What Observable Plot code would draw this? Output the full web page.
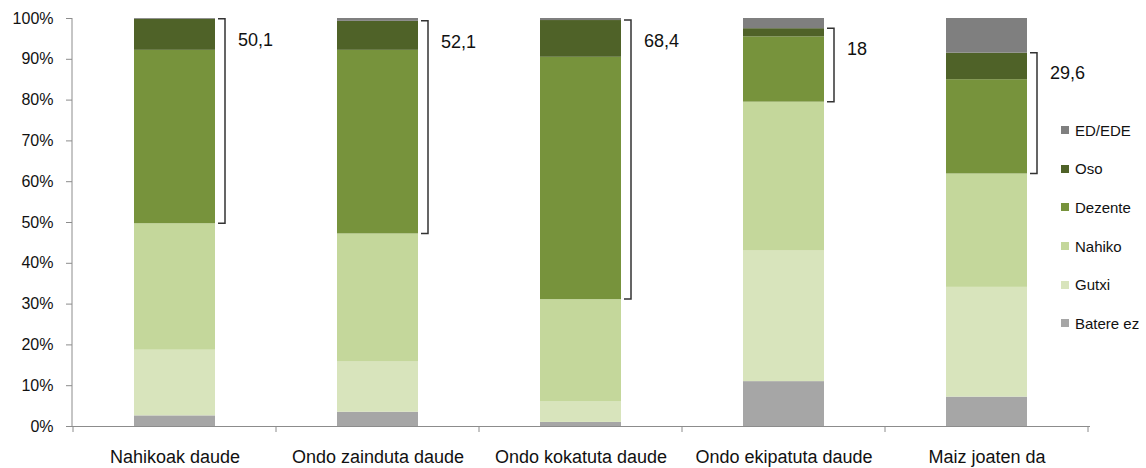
<!DOCTYPE html>
<html><head><meta charset="utf-8">
<script src="https://cdn.jsdelivr.net/npm/d3@7"></script>
<script src="https://cdn.jsdelivr.net/npm/@observablehq/plot@0.6"></script>
<style>
body{margin:0;background:#fff;}
#chart{position:relative;width:1146px;height:468px;font-family:"Liberation Sans",Arial,sans-serif;}
#legend{position:absolute;left:1061px;top:111px;font-size:15px;color:#111;}
#legend .item{height:38.6px;display:flex;align-items:center;}
#legend .sw{width:8px;height:8px;margin-right:6px;}
</style></head><body><div id="chart"></div>
<script>
const categories = ["Nahikoak daude","Ondo zainduta daude","Ondo kokatuta daude","Ondo ekipatuta daude","Maiz joaten da"];
const seriesNames = ["Batere ez","Gutxi","Nahiko","Dezente","Oso","ED/EDE"];
const seriesColors = ["#a6a6a6","#d8e4bc","#c4d79b","#77933c","#4f6228","#7f7f7f"];
const batereEz = [2.6, 3.5, 1.0, 11.0, 7.2];
const gutxi    = [16.1, 12.3, 5.0, 32.0, 26.9];
const nahiko   = [31.0, 31.4, 25.1, 36.5, 27.8];
const dezente  = [42.5, 45.0, 59.4, 16.0, 23.1];
const oso      = [7.6, 7.1, 9.0, 2.0, 6.5];
const edEde    = [0.2, 0.7, 0.5, 2.5, 8.5];
const bracketLabels = ["50,1","52,1","68,4","18","29,6"];
const yTicks = [0,10,20,30,40,50,60,70,80,90,100];

const seriesValues = [batereEz, gutxi, nahiko, dezente, oso, edEde];
const data = [];
seriesNames.forEach((s, si) => categories.forEach((c, ci) => data.push({cat: c, series: s, value: seriesValues[si][ci]})));

const brackets = categories.map((c, i) => ({
  cat: c,
  bottom: batereEz[i] + gutxi[i] + nahiko[i],
  top: batereEz[i] + gutxi[i] + nahiko[i] + dezente[i] + oso[i],
  label: bracketLabels[i]
}));

function annotations(index, scales, values, dims) {
  const x = scales.x, y = scales.y;
  const bw = x.bandwidth(), step = x.step();
  const g = d3.create("svg:g");
  const axisColor = "#8c8c8c";
  g.append("line").attr("x1", dims.marginLeft).attr("x2", dims.marginLeft)
    .attr("y1", y(0)).attr("y2", y(100)).attr("stroke", axisColor);
  const bounds = categories.map(c => x(c) - (step - bw) / 2);
  bounds.push(x(categories[categories.length - 1]) + bw + (step - bw) / 2);
  bounds.forEach(b => g.append("line").attr("x1", b).attr("x2", b)
    .attr("y1", y(0)).attr("y2", y(0) + 6).attr("stroke", axisColor));
  brackets.forEach(d => {
    const bx = x(d.cat) + bw + 10;
    const yt = y(d.top), yb = y(d.bottom);
    g.append("path")
      .attr("d", `M${bx - 7},${yt}H${bx}V${yb}H${bx - 7}`)
      .attr("fill", "none").attr("stroke", "#333").attr("stroke-width", 1.5);
    g.append("text").attr("x", bx + 13).attr("y", yt + 22)
      .attr("text-anchor", "start")
      .attr("dominant-baseline", "middle").attr("font-size", 18).attr("fill", "#111")
      .text(d.label);
  });
  return g.node();
}

const plot = Plot.plot({
  width: 1146,
  height: 468,
  marginLeft: 72,
  marginRight: 56,
  marginTop: 18,
  marginBottom: 42,
  style: {fontFamily: '"Liberation Sans", Arial, sans-serif', background: "#fff", color: "#111"},
  x: {domain: categories, paddingInner: 0.6, paddingOuter: 0.3, align: 0.5, label: null},
  y: {domain: [0, 100], label: null},
  color: {domain: seriesNames, range: seriesColors},
  marks: [
    Plot.barY(data, {x: "cat", y: "value", fill: "series"}),
    Plot.ruleY([0], {stroke: "#8c8c8c"}),
    Plot.axisY({ticks: yTicks, tickFormat: d => d + "%", tickSize: 6, tickPadding: 13, fontSize: 16, stroke: "#8c8c8c", label: null}),
    Plot.axisX({tickSize: 0, tickPadding: 24, fontSize: 18, label: null}),
    annotations
  ]
});
document.getElementById("chart").appendChild(plot);

const legend = d3.select("#chart").append("div").attr("id", "legend");
seriesNames.slice().reverse().forEach(s => {
  const it = legend.append("div").attr("class", "item");
  it.append("div").attr("class", "sw").style("background", seriesColors[seriesNames.indexOf(s)]);
  it.append("span").text(s);
});
</script></body></html>
